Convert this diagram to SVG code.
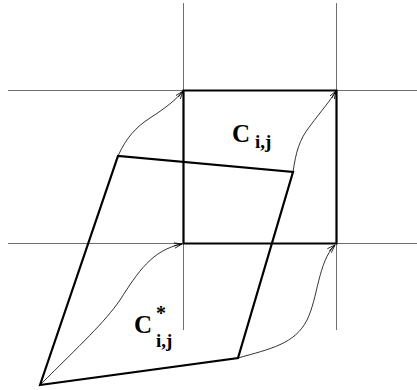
<svg xmlns="http://www.w3.org/2000/svg" width="417" height="390" viewBox="0 0 417 390">
<style>
.grid{stroke:#6e6e6e;stroke-width:1;fill:none}
.thick{stroke:#000;stroke-width:2.2;fill:none;stroke-linejoin:miter}
.curve{stroke:#000;stroke-width:0.8;fill:none;marker-end:url(#arr)}
.lbl{font-family:"Liberation Serif","Times New Roman",serif;font-weight:bold;fill:#000}
</style>
<defs>
<marker id="arr" viewBox="0 0 10 8" refX="10" refY="4" markerWidth="8" markerHeight="6.4" markerUnits="userSpaceOnUse" orient="auto">
<path d="M0,0.5 L10,4 L0,7.5 M10,4 L0,4" fill="none" stroke="#000" stroke-width="1"/>
</marker>
</defs>
<g id="grid">
<line class="grid" x1="8" y1="90.5" x2="417" y2="90.5"/>
<line class="grid" x1="8" y1="243.5" x2="417" y2="243.5"/>
<line class="grid" x1="183.5" y1="3" x2="183.5" y2="330"/>
<line class="grid" x1="336.5" y1="3" x2="336.5" y2="330"/>
</g>
<g id="cell">
<polygon class="thick" points="183.5,90.5 336.5,90.5 336.5,243.5 183.5,243.5"/>
</g>
<g id="cell-star">
<polygon class="thick" points="40,385 118,156 293,172 238,358"/>
</g>
<g id="connectors">
<path class="curve" d="M118,156 C126,138 136,127 150,118 C164,109 176,100 183,91"/>
<path class="curve" d="M293,172 C296,152 299,140 310,126 C322,110 330,101 336,91"/>
<path class="curve" d="M40,385 C80,345 105,322 120,300 C138,272 152,250 182,244"/>
<path class="curve" d="M238,358 C270,349 295,344 307,320 C318,298 318,262 335,245"/>
</g>
<g id="label-c">
<text class="lbl" x="232" y="142" font-size="25">C</text>
<text class="lbl" x="255" y="148" font-size="19">i,j</text>
</g>
<g id="label-cstar">
<text class="lbl" x="134" y="333" font-size="25">C</text>
<text class="lbl" x="156" y="320" font-size="20">*</text>
<text class="lbl" x="156" y="347" font-size="19">i,j</text>
</g>
</svg>
